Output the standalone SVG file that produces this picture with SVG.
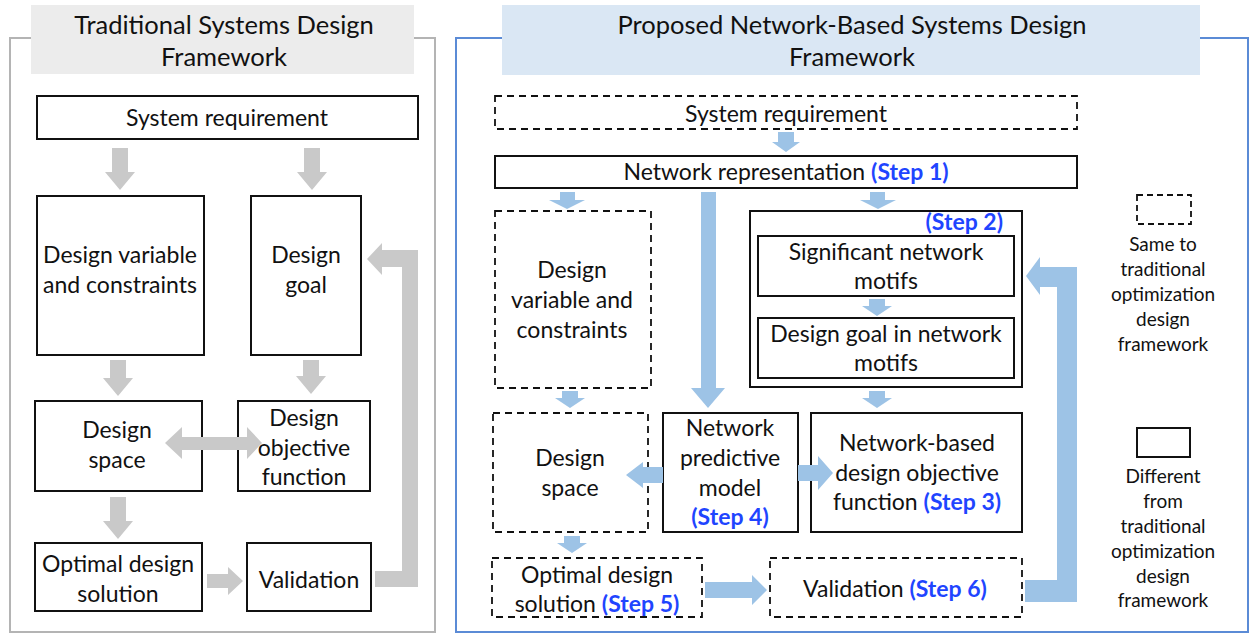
<svg xmlns="http://www.w3.org/2000/svg" width="1250" height="635" viewBox="0 0 1250 635">
  <style>
    text { font-family: Lato, "Open Sans", "Liberation Sans", sans-serif; fill: #111; text-anchor: middle; }
    .t { font-size: 23px; }
    .h { font-size: 25.5px; }
    .lg { font-size: 19px; }
    .st { fill: #1f45ff; font-weight: bold; }
    .box { fill: #fff; stroke: #111; stroke-width: 2; }
    .dash { fill: #fff; stroke: #111; stroke-width: 1.8; stroke-dasharray: 7 5; }
    .ga { fill: #c9c9c9; }
    .ba { fill: #9dc3e6; }
  </style>

  <!-- panel frames -->
  <g id="panel-traditional">
    <rect x="10" y="38" width="425" height="594" fill="#fff" stroke="#b4b4b4" stroke-width="2"/>
    <rect x="31" y="5" width="383" height="69" fill="#ececec"/>
    <text class="h" x="224" y="34">Traditional Systems Design</text>
    <text class="h" x="224" y="66">Framework</text>
  </g>
  <g id="panel-proposed">
    <rect x="456" y="38" width="792" height="594" fill="#fff" stroke="#5b8bd6" stroke-width="2"/>
    <rect x="502" y="5" width="698" height="70" fill="#dae7f4"/>
    <text class="h" x="852" y="34">Proposed Network-Based Systems Design</text>
    <text class="h" x="852" y="66">Framework</text>
  </g>

  <!-- traditional nodes -->
  <g id="t-requirement">
    <rect class="box" x="37" y="96" width="381" height="43"/>
    <text class="t" x="227" y="126">System requirement</text>
  </g>
  <g id="t-variables">
    <rect class="box" x="37" y="196" width="167" height="159"/>
    <text class="t" x="120" y="263">Design variable</text>
    <text class="t" x="120" y="293">and constraints</text>
  </g>
  <g id="t-goal">
    <rect class="box" x="251" y="196" width="110" height="159"/>
    <text class="t" x="306" y="263">Design</text>
    <text class="t" x="306" y="293">goal</text>
  </g>
  <g id="t-space">
    <rect class="box" x="35" y="401" width="167" height="90"/>
    <text class="t" x="117" y="438">Design</text>
    <text class="t" x="117" y="468">space</text>
  </g>
  <g id="t-objective">
    <rect class="box" x="238" y="401" width="132" height="90"/>
    <text class="t" x="304" y="426">Design</text>
    <text class="t" x="304" y="456">objective</text>
    <text class="t" x="304" y="485">function</text>
  </g>
  <g id="t-solution">
    <rect class="box" x="35" y="543" width="167" height="68"/>
    <text class="t" x="118" y="572">Optimal design</text>
    <text class="t" x="118" y="602">solution</text>
  </g>
  <g id="t-validation">
    <rect class="box" x="247" y="543" width="124" height="68"/>
    <text class="t" x="309" y="588">Validation</text>
  </g>

  <!-- proposed nodes -->
  <g id="p-requirement">
    <rect class="dash" x="495" y="96" width="582" height="33"/>
    <text class="t" x="786" y="122">System requirement</text>
  </g>
  <g id="p-representation">
    <rect class="box" x="495" y="156" width="582" height="32"/>
    <text class="t" x="786" y="180">Network representation <tspan class="st">(Step 1)</tspan></text>
  </g>
  <g id="p-variables">
    <rect class="dash" x="495" y="211" width="156" height="177"/>
    <text class="t" x="572" y="278">Design</text>
    <text class="t" x="572" y="308">variable and</text>
    <text class="t" x="572" y="338">constraints</text>
  </g>
  <g id="p-motif-group">
    <rect class="box" x="750" y="211" width="272" height="176"/>
    <text class="t st" x="1003" y="230" style="text-anchor:end">(Step 2)</text>
  </g>
  <g id="p-motifs">
    <rect class="box" x="758" y="236" width="256" height="60"/>
    <text class="t" x="886" y="260">Significant network</text>
    <text class="t" x="886" y="289">motifs</text>
  </g>
  <g id="p-goal">
    <rect class="box" x="758" y="318" width="256" height="60"/>
    <text class="t" x="886" y="342">Design goal in network</text>
    <text class="t" x="886" y="371">motifs</text>
  </g>
  <g id="p-space">
    <rect class="dash" x="493" y="413" width="155" height="119"/>
    <text class="t" x="570" y="466">Design</text>
    <text class="t" x="570" y="496">space</text>
  </g>
  <g id="p-predictive">
    <rect class="box" x="663" y="413" width="135" height="119"/>
    <text class="t" x="730" y="436">Network</text>
    <text class="t" x="730" y="466">predictive</text>
    <text class="t" x="730" y="496">model</text>
    <text class="t st" x="730" y="525">(Step 4)</text>
  </g>
  <g id="p-objective">
    <rect class="box" x="811" y="413" width="211" height="119"/>
    <text class="t" x="917" y="451">Network-based</text>
    <text class="t" x="917" y="481">design objective</text>
    <text class="t" x="917" y="510">function <tspan class="st">(Step 3)</tspan></text>
  </g>
  <g id="p-solution">
    <rect class="dash" x="492" y="558" width="210" height="59"/>
    <text class="t" x="597" y="583">Optimal design</text>
    <text class="t" x="597" y="612">solution <tspan class="st">(Step 5)</tspan></text>
  </g>
  <g id="p-validation">
    <rect class="dash" x="770" y="558" width="252" height="59"/>
    <text class="t" x="895" y="597">Validation <tspan class="st">(Step 6)</tspan></text>
  </g>

  <!-- legend -->
  <g id="legend-same">
    <rect class="dash" x="1137" y="195" width="54" height="29" style="stroke-dasharray:6 4"/>
    <text class="lg" x="1163" y="251">Same to</text>
    <text class="lg" x="1163" y="276">traditional</text>
    <text class="lg" x="1163" y="301">optimization</text>
    <text class="lg" x="1163" y="326">design</text>
    <text class="lg" x="1163" y="351">framework</text>
  </g>
  <g id="legend-different">
    <rect class="box" x="1137" y="428" width="53" height="29"/>
    <text class="lg" x="1163" y="483">Different</text>
    <text class="lg" x="1163" y="508">from</text>
    <text class="lg" x="1163" y="533">traditional</text>
    <text class="lg" x="1163" y="558">optimization</text>
    <text class="lg" x="1163" y="583">design</text>
    <text class="lg" x="1163" y="607">framework</text>
  </g>

  <!-- connectors, drawn over the box outlines -->
  <g id="connectors">
    <!-- traditional flow (grey) -->
    <path class="ga" d="M112,148 H128 V172 H135 L120,190 L105,172 H112 Z"/>
    <path class="ga" d="M304,148 H320 V172 H327 L312,190 L297,172 H304 Z"/>
    <path class="ga" d="M110,360 H126 V378 H133 L118,396 L103,378 H110 Z"/>
    <path class="ga" d="M303,360 H319 V376 H326 L311,394 L296,376 H303 Z"/>
    <path class="ga" d="M110,497 H126 V521 H133 L118,539 L103,521 H110 Z"/>
    <path class="ga" d="M165,443 L182,427 V437 H247 V427 L262,443 L247,459 V450 H182 V459 Z"/>
    <path class="ga" d="M207,574 H228 V567 L243,581 L228,595 V588 H207 Z"/>
    <path class="ga" d="M375,571 H402 V267 H382 V275 L367,259 L382,243 V250 H418 V587 H375 Z"/>

    <!-- proposed flow (blue) -->
    <path class="ba" d="M778,132 H794 V142 H800 L786,152 L772,142 H778 Z"/>
    <path class="ba" d="M560,192 H575 V200 H585 L567,209 L549,200 H560 Z"/>
    <path class="ba" d="M701,192 H716 V388 H725 L708,408 L691,388 H701 Z"/>
    <path class="ba" d="M870,192 H885 V200 H896 L878,209 L860,200 H870 Z"/>
    <path class="ba" d="M869,299 H885 V306 H892 L877,316 L862,306 H869 Z"/>
    <path class="ba" d="M869,391 H885 V398 H892 L877,408 L862,398 H869 Z"/>
    <path class="ba" d="M562,391 H578 V398 H585 L570,408 L555,398 H562 Z"/>
    <path class="ba" d="M663,467 V483 H643 V488 L626,475 L643,462 V467 Z"/>
    <path class="ba" d="M798,465 H818 V456 L833,473 L818,490 V481 H798 Z"/>
    <path class="ba" d="M564,536 H580 V543 H587 L572,553 L557,543 H564 Z"/>
    <path class="ba" d="M705,582 H752 V575 L767,590 L752,605 V598 H705 Z"/>
    <path class="ba" d="M1025,580 H1057 V287 H1040 V295 L1026,276 L1040,257 V267 H1077 V602 H1025 Z"/>
  </g>
</svg>
